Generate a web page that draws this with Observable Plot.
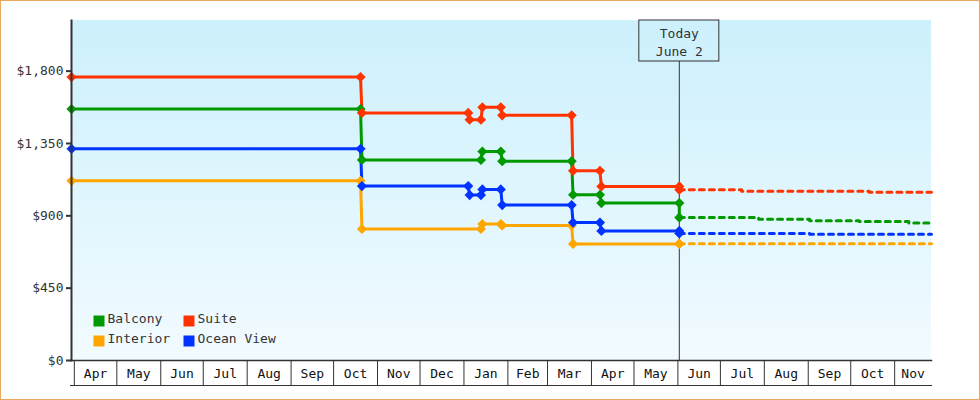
<!DOCTYPE html>
<html><head><meta charset="utf-8">
<script src="https://cdn.jsdelivr.net/npm/d3@7"></script>
<script src="https://cdn.jsdelivr.net/npm/@observablehq/plot@0.6"></script>
<style>
body{margin:0;background:#fff}
#wrap{position:relative;width:980px;height:400px;overflow:hidden}
#wrap .border{position:absolute;left:0;top:0;width:980px;height:400px;box-sizing:border-box;border:1px solid #e8a860;pointer-events:none}
svg{display:block}
</style></head><body>
<div id="wrap"><div class="border"></div></div>
<script>
// ---- data ----
const series = ["Balcony", "Suite", "Interior", "Ocean View"];
const colors = ["#009900", "#ff3300", "#ffa500", "#0033ff"];

const balconyDates = ["2014-03-30","2014-10-20","2014-10-21","2015-01-13","2015-01-14","2015-01-27","2015-01-28","2015-03-18","2015-03-19","2015-04-07","2015-04-08","2015-06-02","2015-06-02"];
const balconyPrices = [1564,1564,1248,1248,1300,1300,1240,1240,1031,1031,979,979,889];

const suiteDates = ["2014-03-30","2014-10-20","2014-10-21","2015-01-04","2015-01-05","2015-01-13","2015-01-14","2015-01-27","2015-01-28","2015-03-18","2015-03-19","2015-04-07","2015-04-08","2015-06-02","2015-06-02"];
const suitePrices = [1763,1763,1540,1540,1498,1498,1575,1575,1525,1525,1180,1180,1083,1083,1062];

const interiorDates = ["2014-03-30","2014-10-20","2014-10-21","2015-01-13","2015-01-14","2015-01-27","2015-01-28","2015-03-18","2015-03-19","2015-06-02","2015-06-02"];
const interiorPrices = [1118,1118,818,818,849,849,840,840,725,725,727];

const oceanDates = ["2014-03-30","2014-10-20","2014-10-21","2015-01-04","2015-01-05","2015-01-13","2015-01-14","2015-01-27","2015-01-28","2015-03-18","2015-03-19","2015-04-07","2015-04-08","2015-06-02","2015-06-02"];
const oceanPrices = [1317,1317,1085,1085,1029,1029,1064,1064,967,967,858,858,806,806,790];

// forecasts (dashed)
const balconyFcDates = ["2015-06-02","2015-07-28","2015-09-02","2015-10-07","2015-11-11","2015-11-27"];
const balconyFcPrices = [889,878,870,864,855,855];
const suiteFcDates = ["2015-06-02","2015-07-16","2015-10-14","2015-11-27"];
const suiteFcPrices = [1062,1053,1047,1047];
const interiorFcDates = ["2015-06-02","2015-11-27"];
const interiorFcPrices = [727,727];
const oceanFcDates = ["2015-06-02","2015-09-02","2015-11-27"];
const oceanFcPrices = [790,785,785];

const monthTicks = ["2014-04-01","2014-05-01","2014-06-01","2014-07-01","2014-08-01","2014-09-01","2014-10-01","2014-11-01","2014-12-01","2015-01-01","2015-02-01","2015-03-01","2015-04-01","2015-05-01","2015-06-01","2015-07-01","2015-08-01","2015-09-01","2015-10-01","2015-11-01"];
const monthLabels = ["Apr","May","Jun","Jul","Aug","Sep","Oct","Nov","Dec","Jan","Feb","Mar","Apr","May","Jun","Jul","Aug","Sep","Oct","Nov"];
const yTicks = [0, 450, 900, 1350, 1800];
const xDomain = ["2014-03-30", "2015-11-27"];
const yDomain = [0, 2115];
const todayDate = "2015-06-02";
const todayText = "Today\nJune 2";

// ---- build tables ----
const P = s => new Date(s + "T00:00:00Z");
function rows(name, dates, prices) { return dates.map((d, i) => ({series: name, date: P(d), price: prices[i]})); }
const hist = [
  ...rows("Interior", interiorDates, interiorPrices),
  ...rows("Ocean View", oceanDates, oceanPrices),
  ...rows("Balcony", balconyDates, balconyPrices),
  ...rows("Suite", suiteDates, suitePrices)
];
const fc = [
  ...rows("Interior", interiorFcDates, interiorFcPrices),
  ...rows("Ocean View", oceanFcDates, oceanFcPrices),
  ...rows("Balcony", balconyFcDates, balconyFcPrices),
  ...rows("Suite", suiteFcDates, suiteFcPrices)
];
const xd = xDomain.map(P);
const ticks = monthTicks.map(P);
const labelPos = ticks.map((t, i) => {
  const end = i + 1 < ticks.length ? ticks[i + 1] : d3.utcMonth.offset(t, 1);
  const a = Math.max(+t, +xd[0]), b = Math.min(+end, +xd[1]);
  return {date: new Date((a + b) / 2), label: monthLabels[i]};
});
const today = P(todayDate);

function background(index, scales, values, dims) {
  const g = d3.create("svg:g");
  const lg = g.append("defs").append("linearGradient").attr("id", "bgGrad")
    .attr("x1", 0).attr("y1", 0).attr("x2", 0).attr("y2", 1);
  lg.append("stop").attr("offset", "0%").attr("stop-color", "#ccf0fc");
  lg.append("stop").attr("offset", "100%").attr("stop-color", "#f2fbff");
  g.append("rect").attr("x", dims.marginLeft).attr("y", dims.marginTop)
    .attr("width", dims.width - dims.marginLeft - dims.marginRight)
    .attr("height", dims.height - dims.marginTop - dims.marginBottom)
    .attr("fill", "url(#bgGrad)");
  return g.node();
}

const legendMarks = [];
series.forEach((s, i) => {
  const col = i % 2, row = Math.floor(i / 2);
  const cx = 27.5 + col * 90, cy = -39.5 + row * 20;
  legendMarks.push(Plot.dot([s], {frameAnchor: "bottom-left", dx: cx, dy: cy, symbol: "square", r: 6.2, fill: colors[i]}));
  legendMarks.push(Plot.text([s], {frameAnchor: "bottom-left", dx: cx + 8.5, dy: cy + 1.5, text: d => d, textAnchor: "start", fill: "#333", fontSize: 13}));
});

const chart = Plot.plot({
  width: 980, height: 400,
  marginLeft: 71, marginRight: 49, marginTop: 20, marginBottom: 40,
  style: {fontFamily: "'DejaVu Sans Mono', monospace", fontSize: "13px", background: "transparent", overflow: "visible"},
  x: {type: "utc", domain: xd, axis: null},
  y: {domain: yDomain, axis: null},
  color: {domain: series, range: colors},
  marks: [
    background,
    // today rule
    Plot.ruleX([today], {x: d => d, insetTop: 41, stroke: "#333", strokeWidth: 1}),
    Plot.rect([today], {x1: d => d, x2: d => d, insetLeft: -40, insetRight: -40, insetBottom: 299, fill: "none", stroke: "#333", strokeWidth: 1}),
    Plot.text([todayText], {x: () => today, frameAnchor: "top", text: d => d, dy: 5, lineAnchor: "top", lineHeight: 1.38, fill: "#333", fontSize: 13}),
    // lines
    Plot.line(fc, {x: "date", y: "price", z: "series", stroke: "series", strokeWidth: 3, curve: "step-after", strokeDasharray: "5,5"}),
    Plot.line(hist, {x: "date", y: "price", z: "series", stroke: "series", strokeWidth: 3, strokeLinejoin: "round"}),
    Plot.dot(hist, {x: "date", y: "price", fill: "series", symbol: "diamond2", r: 4.6}),
    // axes
    Plot.frame({anchor: "left", stroke: "#333", strokeWidth: 2}),
    Plot.axisY({ticks: yTicks, label: null, tickFormat: d => "$" + d3.format(",")(d), tickSize: 5, tickPadding: 3, stroke: "#333", strokeWidth: 2, fill: "#333", fontSize: 13}),
    Plot.frame({anchor: "bottom", stroke: "#333", strokeWidth: 1.5, insetLeft: -1}),
    Plot.frame({anchor: "bottom", stroke: "#333", strokeWidth: 1, insetLeft: -1, dy: 25}),
    Plot.ruleX(ticks, {x: d => d, insetTop: 341, insetBottom: -25, stroke: "#333", strokeWidth: 1}),
    Plot.text(labelPos, {x: "date", text: "label", frameAnchor: "bottom", dy: 13, lineAnchor: "middle", fill: "#111", fontSize: 13}),
    ...legendMarks
  ]
});
document.getElementById("wrap").prepend(chart);
</script>
</body></html>
